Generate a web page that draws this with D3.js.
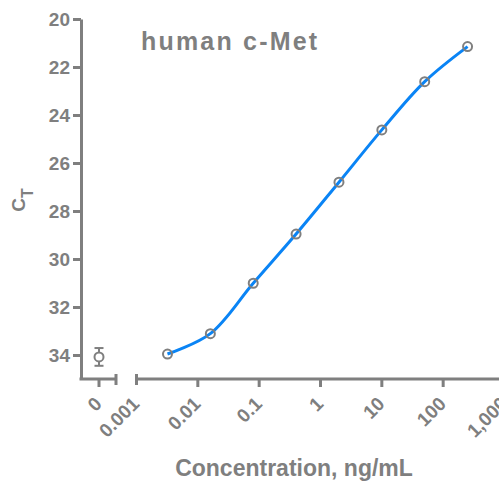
<!DOCTYPE html>
<html>
<head>
<meta charset="utf-8">
<script src="https://cdn.jsdelivr.net/npm/d3@7"></script>
<style>
  html, body { margin: 0; padding: 0; background: #fff; }
  svg { display: block; }
  text { font-family: "Liberation Sans", Arial, sans-serif; font-weight: bold; fill: #7f7f7f; }
</style>
</head>
<body>
<svg id="chart" width="499" height="484"></svg>
<script>
// ---- data ----
const concentrations = [0.0032, 0.016, 0.08, 0.4, 2, 10, 50, 250];
const ctValues = [33.96, 33.11, 31.01, 28.96, 26.80, 24.62, 22.61, 21.15];
const zeroCategory = ["0"];
const zeroMean = [34.08];
const zeroSD = [0.37];
const yTicks = [20, 22, 24, 26, 28, 30, 32, 34];
const xTickValues = [0.001, 0.01, 0.1, 1, 10, 100, 1000];
const xTickLabels = ["0.001", "0.01", "0.1", "1", "10", "100", "1,000"];
const titleText = "human c-Met";
const xTitle = "Concentration, ng/mL";

// ---- layout ----
const gray = "#7f7f7f";
const blue = "#0a84f5";
const axisX = 81, axisY = 379;
const tickFont = 19;
const svg = d3.select("#chart");

const y = d3.scaleLinear().domain([20, 35]).range([19, 379]);
const x0 = d3.scaleBand().domain(zeroCategory).range([82, 116]);
const x = d3.scaleLog().domain([0.001, 1000]).range([136.5, 504.5]);

// y axis
const yAxis = svg.append("g")
  .attr("transform", `translate(${axisX},0)`)
  .call(d3.axisLeft(y).tickValues(yTicks).tickSize(8).tickSizeOuter(0).tickPadding(3));
yAxis.select(".domain").attr("stroke", gray).attr("stroke-width", 3);
yAxis.selectAll(".tick line").attr("stroke", gray).attr("stroke-width", 3);
yAxis.selectAll(".tick text").attr("font-size", tickFont).attr("fill", gray)
  .attr("font-family", '"Liberation Sans", Arial, sans-serif').attr("font-weight", "bold");

// x axis: zero segment
const xEnd0 = x0.range()[1];
svg.append("line").attr("x1", axisX - 1.5).attr("x2", xEnd0).attr("y1", axisY).attr("y2", axisY)
  .attr("stroke", gray).attr("stroke-width", 3);
svg.append("line").attr("x1", xEnd0).attr("x2", xEnd0).attr("y1", axisY - 5).attr("y2", axisY + 6)
  .attr("stroke", gray).attr("stroke-width", 3);
svg.selectAll(".zt").data(zeroCategory).enter().append("line")
  .attr("x1", d => x0(d) + x0.bandwidth() / 2).attr("x2", d => x0(d) + x0.bandwidth() / 2)
  .attr("y1", axisY).attr("y2", axisY + 8)
  .attr("stroke", gray).attr("stroke-width", 3);
svg.selectAll(".zl").data(zeroCategory).enter().append("text")
  .attr("transform", d => `translate(${x0(d) + x0.bandwidth() / 2 + 4},405) rotate(-45)`)
  .attr("text-anchor", "end").style("font-size", tickFont + "px").text(d => d);

// x axis: log segment
const xStart = x.range()[0];
svg.append("line").attr("x1", xStart).attr("x2", x.range()[1]).attr("y1", axisY).attr("y2", axisY)
  .attr("stroke", gray).attr("stroke-width", 3);
svg.append("line").attr("x1", xStart).attr("x2", xStart).attr("y1", axisY - 5).attr("y2", axisY + 6)
  .attr("stroke", gray).attr("stroke-width", 3);
svg.selectAll(".xt").data(xTickValues.slice(1)).enter().append("line")
  .attr("x1", d => x(d)).attr("x2", d => x(d)).attr("y1", axisY).attr("y2", axisY + 8)
  .attr("stroke", gray).attr("stroke-width", 3);
svg.selectAll(".xl").data(xTickValues).enter().append("text")
  .attr("transform", d => `translate(${x(d) + 4},405) rotate(-45)`)
  .attr("text-anchor", "end").style("font-size", tickFont + "px")
  .text((d, i) => xTickLabels[i]);

// curve
const pts = concentrations.map((c, i) => [x(c), y(ctValues[i])]);
svg.append("path").attr("d", d3.line().curve(d3.curveCatmullRom.alpha(0.5))(pts))
  .attr("fill", "none").attr("stroke", blue).attr("stroke-width", 3);

// points
svg.selectAll(".pt").data(pts).enter().append("circle")
  .attr("cx", d => d[0]).attr("cy", d => d[1]).attr("r", 4.5)
  .attr("fill", "none").attr("stroke", gray).attr("stroke-width", 2);

// zero point with error bar
zeroCategory.forEach((c, i) => {
  const cx = x0(c) + x0.bandwidth() / 2;
  const g = svg.append("g").attr("stroke", gray).attr("stroke-width", 2).attr("fill", "none");
  g.append("line").attr("x1", cx).attr("x2", cx).attr("y1", y(zeroMean[i] - zeroSD[i])).attr("y2", y(zeroMean[i] + zeroSD[i]));
  g.append("line").attr("x1", cx - 4.5).attr("x2", cx + 4.5).attr("y1", y(zeroMean[i] - zeroSD[i])).attr("y2", y(zeroMean[i] - zeroSD[i]));
  g.append("line").attr("x1", cx - 4.5).attr("x2", cx + 4.5).attr("y1", y(zeroMean[i] + zeroSD[i])).attr("y2", y(zeroMean[i] + zeroSD[i]));
  g.append("circle").attr("cx", cx).attr("cy", y(zeroMean[i])).attr("r", 4.5).attr("fill", "#fff");
});

// titles
svg.append("text").attr("x", 141).attr("y", 50).style("font-size", "25px")
  .attr("letter-spacing", 2.2).text(titleText);
svg.append("text").attr("x", 294).attr("y", 476).attr("text-anchor", "middle")
  .style("font-size", "23px").text(xTitle);
const yl = svg.append("text").attr("transform", "translate(25,200) rotate(-90)")
  .attr("text-anchor", "middle");
yl.append("tspan").style("font-size", "19px").text("C");
yl.append("tspan").style("font-size", "16px").attr("dy", 8).text("T");
</script>
</body>
</html>
